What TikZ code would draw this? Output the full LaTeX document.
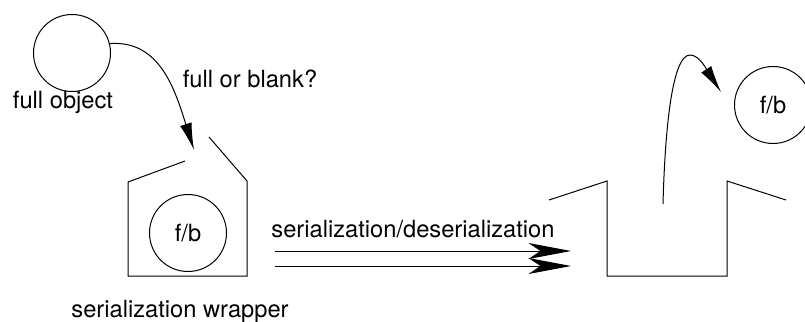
\documentclass[tikz,border=0pt]{standalone}
\usepackage{fontspec}
\setmainfont{TeX Gyre Heros}
\usetikzlibrary{arrows.meta}
\begin{document}
\begin{tikzpicture}[x=0.5pt,y=-0.5pt, line width=0.5pt,
  every node/.style={font=\fontsize{11.85}{14}\selectfont},
  obj/.style={circle,draw,minimum size=38.5pt,inner sep=0pt},
  lbl/.style={anchor=base,inner sep=0pt},
  flow/.style={-{Latex[length=13.5pt,width=6pt]}},
  transfer/.style={-{Stealth[length=21.3pt,width=8pt,inset=6pt]}}]
\useasboundingbox (0,0) rectangle (805,322);
% left side
\node[obj] (full) at (72,53) {};
\node[lbl] (fulllbl) at (63,108) {full object};
\node[lbl] (question) at (250,87) {full or blank?};
\coordinate (tipa) at (194,150);
\draw[flow] (full.14) .. controls (160,40) and (175,90) .. (tipa);
\draw[line join=miter] (185,161) -- (128,182) -- (128,276) -- (247,276) -- (247,181) -- (209,137);
\node[obj] (fbleft) at (188,233) {f/b};
\node[lbl] (wrapper) at (180,317) {serialization wrapper};
% transfer
\node[lbl] (serdes) at (413,237) {serialization/deserialization};
\coordinate (sa) at (275,251);
\coordinate (ea) at (571,251);
\coordinate (sb) at (275,266);
\coordinate (eb) at (571,266);
\draw[transfer] (sa) -- (ea);
\draw[transfer] (sb) -- (eb);
% right side
\draw[line join=miter] (549,200) -- (607,181) -- (607,276) -- (727,276) -- (727,181) -- (786,200);
\node[obj] (fbright) at (773,105) {f/b};
\coordinate (outb) at (663,204);
\coordinate (tipb) at (721,92);
\draw[flow] (outb) .. controls (665,130) and (672,55) .. (690,55) .. controls (700,55) and (708,72) .. (tipb);
\end{tikzpicture}
\end{document}
